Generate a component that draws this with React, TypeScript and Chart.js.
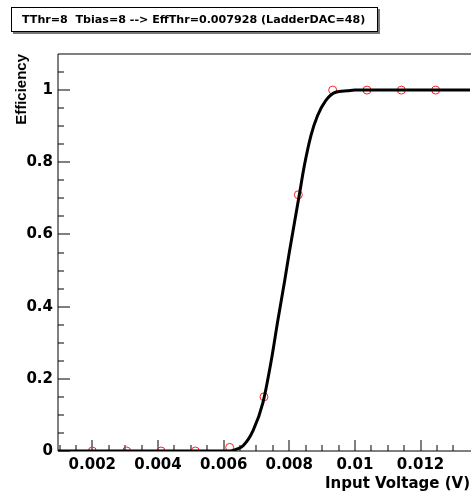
import { useEffect, useRef } from 'react';
import { Chart, registerables } from 'chart.js';

Chart.register(...registerables);

// Fit curve
const curveX = [0.000954, 0.0062, 0.0064, 0.0066, 0.0069, 0.0072, 0.00745, 0.00765, 0.00786, 0.0080, 0.00831, 0.00846, 0.00866, 0.00886, 0.00911, 0.00941, 0.00977, 0.0100, 0.013506];
const curveY = [0, 0, 0.005, 0.015, 0.057, 0.135, 0.25, 0.361, 0.472, 0.55, 0.712, 0.791, 0.874, 0.929, 0.971, 0.994, 0.998, 1, 1];

// Measured points
const pointX = [0.002, 0.003046, 0.004092, 0.005138, 0.006184, 0.00723, 0.008276, 0.009322, 0.010368, 0.011414, 0.01246];
const pointY = [0, 0, 0, 0, 0.01, 0.15, 0.71, 1, 1, 1, 1];

// Axes
const xMin = 0.000954;
const xMax = 0.013506;
const yMin = 0;
const yMax = 1.1;
const xTickVals = [0.002, 0.004, 0.006, 0.008, 0.01, 0.012];
const xTickLabels = ['0.002', '0.004', '0.006', '0.008', '0.01', '0.012'];
const yTickVals = [0, 0.2, 0.4, 0.6, 0.8, 1];
const yTickLabels = ['0', '0.2', '0.4', '0.6', '0.8', '1'];
const xMinorTicks = [0.001, 0.0015, 0.002, 0.0025, 0.003, 0.0035, 0.004, 0.0045, 0.005, 0.0055, 0.006, 0.0065, 0.007, 0.0075, 0.008, 0.0085, 0.009, 0.0095, 0.01, 0.0105, 0.011, 0.0115, 0.012, 0.0125, 0.013];
const yMinorTicks = [0, 0.05, 0.1, 0.15, 0.2, 0.25, 0.3, 0.35, 0.4, 0.45, 0.5, 0.55, 0.6, 0.65, 0.7, 0.75, 0.8, 0.85, 0.9, 0.95, 1, 1.05];

const titleText = 'TThr=8  Tbias=8 --> EffThr=0.007928 (LadderDAC=48)';
const xTitle = 'Input Voltage (V)';
const yTitle = 'Efficiency';

const FONT = '"DejaVu Sans", "Liberation Sans", Arial, sans-serif';
const FONT_NARROW = '"Liberation Sans", Arial, sans-serif';

const framePlugin = {
  id: 'rootFrame',
  beforeDatasetsDraw(chart: any) {
    const { ctx, chartArea, scales } = chart;
    const { left, right, top, bottom } = chartArea;
    const xs = scales.x;
    const ys = scales.y;
    ctx.save();
    ctx.strokeStyle = '#000';
    ctx.lineWidth = 1;
    ctx.beginPath();
    ctx.moveTo(left, top);
    ctx.lineTo(left, bottom);
    ctx.moveTo(left, bottom);
    ctx.lineTo(right + 1, bottom);
    ctx.moveTo(left, top);
    ctx.lineTo(right + 1, top);
    xMinorTicks.forEach((v) => {
      const px = Math.round(xs.getPixelForValue(v));
      const major = xTickVals.some((m) => Math.abs(m - v) < 1e-9);
      const len = major ? 11 : 6;
      ctx.moveTo(px, bottom);
      ctx.lineTo(px, bottom - len);
    });
    yMinorTicks.forEach((v) => {
      const py = Math.round(ys.getPixelForValue(v));
      const major = yTickVals.some((m) => Math.abs(m - v) < 1e-9);
      const len = major ? 12 : 6;
      ctx.moveTo(left, py);
      ctx.lineTo(left + len, py);
    });
    ctx.stroke();
    ctx.restore();
  },
};

export default function App() {
  const canvasRef = useRef<HTMLCanvasElement | null>(null);

  useEffect(() => {
    if (!canvasRef.current) return;
    const chart = new Chart(canvasRef.current, {
      type: 'scatter',
      data: {
        datasets: [
          {
            label: 'fit',
            data: curveX.map((x, i) => ({ x, y: curveY[i] })),
            showLine: true,
            borderColor: '#000',
            borderWidth: 3,
            pointRadius: 0,
            cubicInterpolationMode: 'monotone',
            fill: false,
          } as any,
          {
            label: 'data',
            data: pointX.map((x, i) => ({ x, y: pointY[i] })),
            showLine: false,
            pointStyle: 'circle',
            pointRadius: 4,
            pointBorderWidth: 1,
            pointBorderColor: '#ff2020',
            pointBackgroundColor: 'rgba(0,0,0,0)',
            borderColor: '#ff2020',
            backgroundColor: 'rgba(0,0,0,0)',
          },
        ],
      },
      options: {
        responsive: false,
        animation: false,
        devicePixelRatio: 1,
        layout: { padding: { top: 54, right: 1, bottom: 0, left: 0 } },
        plugins: {
          legend: { display: false },
          tooltip: { enabled: false },
          title: { display: false },
        },
        scales: {
          x: {
            type: 'linear',
            position: 'bottom',
            min: xMin,
            max: xMax,
            grid: { display: false, drawTicks: false },
            border: { display: false },
            afterBuildTicks: (s: any) => {
              s.ticks = xTickVals.map((v) => ({ value: v }));
            },
            afterFit: (s: any) => {
              s.height = 42;
            },
            ticks: {
              autoSkip: false,
              maxRotation: 0,
              minRotation: 0,
              padding: 5,
              color: '#000',
              font: { family: FONT, size: 15, weight: 'bold' },
              callback: (_v: any, i: number) => xTickLabels[i],
            },
            title: {
              display: true,
              text: xTitle,
              align: 'end',
              color: '#000',
              font: { family: FONT, size: 15, weight: 'bold' },
              padding: { top: 0, bottom: 0 },
            },
          },
          y: {
            type: 'linear',
            position: 'left',
            min: yMin,
            max: yMax,
            grid: { display: false, drawTicks: false },
            border: { display: false },
            afterBuildTicks: (s: any) => {
              s.ticks = yTickVals.map((v) => ({ value: v }));
            },
            afterFit: (s: any) => {
              s.width = 58;
            },
            ticks: {
              autoSkip: false,
              padding: 5,
              color: '#000',
              font: { family: FONT, size: 15, weight: 'bold' },
              callback: (_v: any, i: number) => yTickLabels[i],
            },
            title: {
              display: true,
              text: yTitle,
              align: 'end',
              color: '#000',
              font: { family: FONT_NARROW, size: 15, weight: 'bold' },
              padding: { top: 13, bottom: 0 },
            },
          },
        },
      },
      plugins: [framePlugin],
    });
    return () => chart.destroy();
  }, []);

  return (
    <div style={{ position: 'absolute', left: 0, top: 0, width: 475, height: 493, background: '#fff' }}>
      <canvas ref={canvasRef} width={475} height={493} style={{ display: 'block' }} />
      <div
        style={{
          position: 'absolute',
          left: 11,
          top: 7,
          width: 367,
          height: 25,
          boxSizing: 'border-box',
          border: '1px solid #000',
          boxShadow: '2px 2px 0 #777',
          background: '#fff',
          paddingLeft: 10,
          font: `bold 11.1px ${FONT}`,
          lineHeight: '23px',
          color: '#000',
          whiteSpace: 'pre',
        }}
      >
        {titleText}
      </div>
    </div>
  );
}
